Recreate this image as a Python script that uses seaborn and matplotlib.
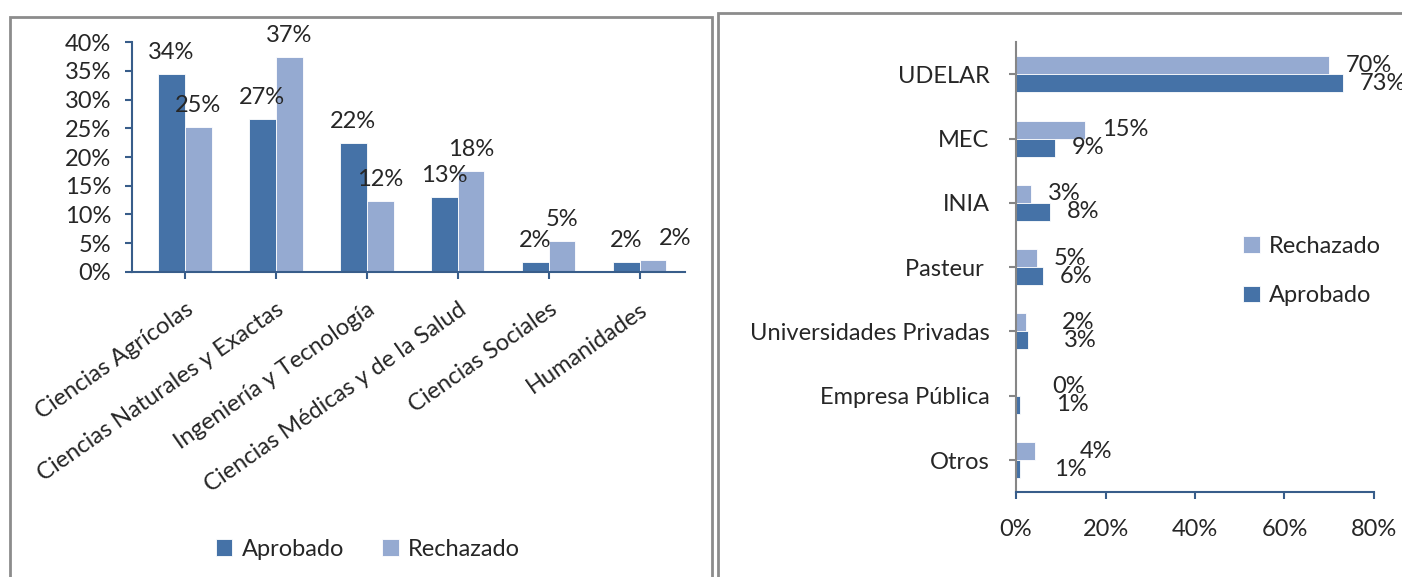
import numpy as np
import pandas as pd
import matplotlib
matplotlib.use("Agg")
import matplotlib.pyplot as plt
from matplotlib.patches import Rectangle
from matplotlib.ticker import PercentFormatter
import seaborn as sns

# datos - area del conocimiento
areas = ["Ciencias Agrícolas", "Ciencias Naturales y Exactas", "Ingeniería y Tecnología",
         "Ciencias Médicas y de la Salud", "Ciencias Sociales", "Humanidades"]
area_aprobado = [34.4, 26.6, 22.4, 13.0, 1.7, 1.7]
area_rechazado = [25.2, 37.4, 12.3, 17.6, 5.4, 2.1]

# datos - institucion
instituciones = ["UDELAR", "MEC", "INIA", "Pasteur ", "Universidades Privadas",
                 "Empresa Pública", "Otros"]
inst_rechazado = [69.9, 15.4, 3.4, 4.7, 2.2, 0.0, 4.2]
inst_aprobado = [73.1, 8.7, 7.6, 6.0, 2.7, 0.9, 0.8]

# desplazamientos extra de las etiquetas (puntos), como en el original
area_dx = {"Aprobado": [0, 0, 0, 0, 0, 0], "Rechazado": [0, 0, 0, 0, 0, 16]}
inst_dx = {"Rechazado": [0, 0, 0, 0, 14, 14, 20], "Aprobado": [0, 0, 0, 0, 14, 14, 13]}

C_APR = "#4572A7"
C_REC = "#95AAD1"
BLUE_AX = "#385D8A"
GREY_AX = "#868686"
FS = 17

sns.set_style("white")
plt.rcParams["font.family"] = ["Lato", "DejaVu Sans"]


def long_df(cats, series):
    rows = []
    for name, vals in series.items():
        for c, v in zip(cats, vals):
            rows.append({"cat": c, "serie": name, "valor": v})
    return pd.DataFrame(rows)


fig = plt.figure(figsize=(14.02, 5.77), dpi=100)
W, H = 1402, 577

# panel izquierdo
ax1 = fig.add_axes([0.0942, 0.5286, 0.3944, 0.3986])
df1 = long_df(areas, {"Aprobado": area_aprobado, "Rechazado": area_rechazado})
orden1 = ["Aprobado", "Rechazado"]
sns.barplot(data=df1, x="cat", y="valor", hue="serie", hue_order=orden1,
            palette=[C_APR, C_REC], width=0.59, saturation=1, ax=ax1,
            edgecolor="white", linewidth=0.6)
ax1.set_ylim(0, 40)
ax1.set_xlim(-0.58, 5.5)
ax1.yaxis.set_major_formatter(PercentFormatter(decimals=0))
ax1.set_yticks(np.arange(0, 41, 5))
ax1.set_xlabel("")
ax1.set_ylabel("")
for serie, cont in zip(orden1, ax1.containers):
    for i, bar in enumerate(cont):
        v = bar.get_height()
        ax1.annotate(f"{v:.0f}%", (bar.get_x() + bar.get_width() / 2, v),
                     xytext=(area_dx[serie][i], 8), textcoords="offset points",
                     ha="center", va="bottom", fontsize=FS)
ax1.set_xticks(range(len(areas)))
ax1.set_xticklabels(areas, rotation=35, ha="right", rotation_mode="anchor", fontsize=FS)
ax1.tick_params(axis="y", labelsize=FS, length=5, width=1.5, color=BLUE_AX, pad=10, left=True)
ax1.tick_params(axis="x", length=5, width=1.5, color=BLUE_AX, pad=14, bottom=True)
for s in ["top", "right"]:
    ax1.spines[s].set_visible(False)
for s in ["left", "bottom"]:
    ax1.spines[s].set_color(BLUE_AX)
    ax1.spines[s].set_linewidth(1.5)
h, l = ax1.get_legend_handles_labels()
ax1.get_legend().remove()
fig.legend(h, l, loc="center", bbox_to_anchor=(368 / W, 1 - 549 / H), ncol=2, frameon=False,
           fontsize=FS, handlelength=0.7, handleheight=0.7, handletextpad=0.4,
           columnspacing=1.6)

# panel derecho
ax2 = fig.add_axes([0.7247, 0.147, 0.2553, 0.78])
df2 = long_df(instituciones, {"Rechazado": inst_rechazado, "Aprobado": inst_aprobado})
orden2 = ["Rechazado", "Aprobado"]
sns.barplot(data=df2, y="cat", x="valor", hue="serie", hue_order=orden2,
            palette=[C_REC, C_APR], width=0.56, saturation=1, ax=ax2, orient="h",
            edgecolor="white", linewidth=0.6)
ax2.set_xlim(0, 80)
ax2.set_ylim(len(instituciones) - 0.5, -0.5)
ax2.xaxis.set_major_formatter(PercentFormatter(decimals=0))
ax2.set_xticks(np.arange(0, 81, 20))
ax2.set_xlabel("")
ax2.set_ylabel("")
for serie, cont in zip(orden2, ax2.containers):
    for i, bar in enumerate(cont):
        v = bar.get_width()
        ax2.annotate(f"{v:.0f}%", (v, bar.get_y() + bar.get_height() / 2),
                     xytext=(12 + inst_dx[serie][i], 0), textcoords="offset points",
                     ha="left", va="center", fontsize=FS, annotation_clip=False)
ax2.tick_params(axis="y", labelsize=FS, length=5, width=1.5, color=GREY_AX, pad=14, left=True)
ax2.tick_params(axis="x", labelsize=FS, length=5, width=1.5, color=BLUE_AX, pad=14, bottom=True)
for s in ["top", "right"]:
    ax2.spines[s].set_visible(False)
ax2.spines["left"].set_color(GREY_AX)
ax2.spines["left"].set_linewidth(1.5)
ax2.spines["bottom"].set_color(BLUE_AX)
ax2.spines["bottom"].set_linewidth(1.5)
h, l = ax2.get_legend_handles_labels()
ax2.get_legend().remove()
fig.legend(h, l, loc="center left", bbox_to_anchor=(1222 / W, 1 - 271 / H), frameon=False,
           fontsize=FS, handlelength=0.7, handleheight=0.7, handletextpad=0.4,
           labelspacing=1.2)

# marcos de los paneles
fig.add_artist(Rectangle((10 / W, -0.02), 702 / W, (H - 17) / H + 0.02,
                         transform=fig.transFigure, fill=False, edgecolor="#8C8C8C", lw=2))
fig.add_artist(Rectangle((718 / W, -0.02), 1.0, (H - 13) / H + 0.02,
                         transform=fig.transFigure, fill=False, edgecolor="#8C8C8C", lw=2))

fig.savefig("out.png", dpi=100)
